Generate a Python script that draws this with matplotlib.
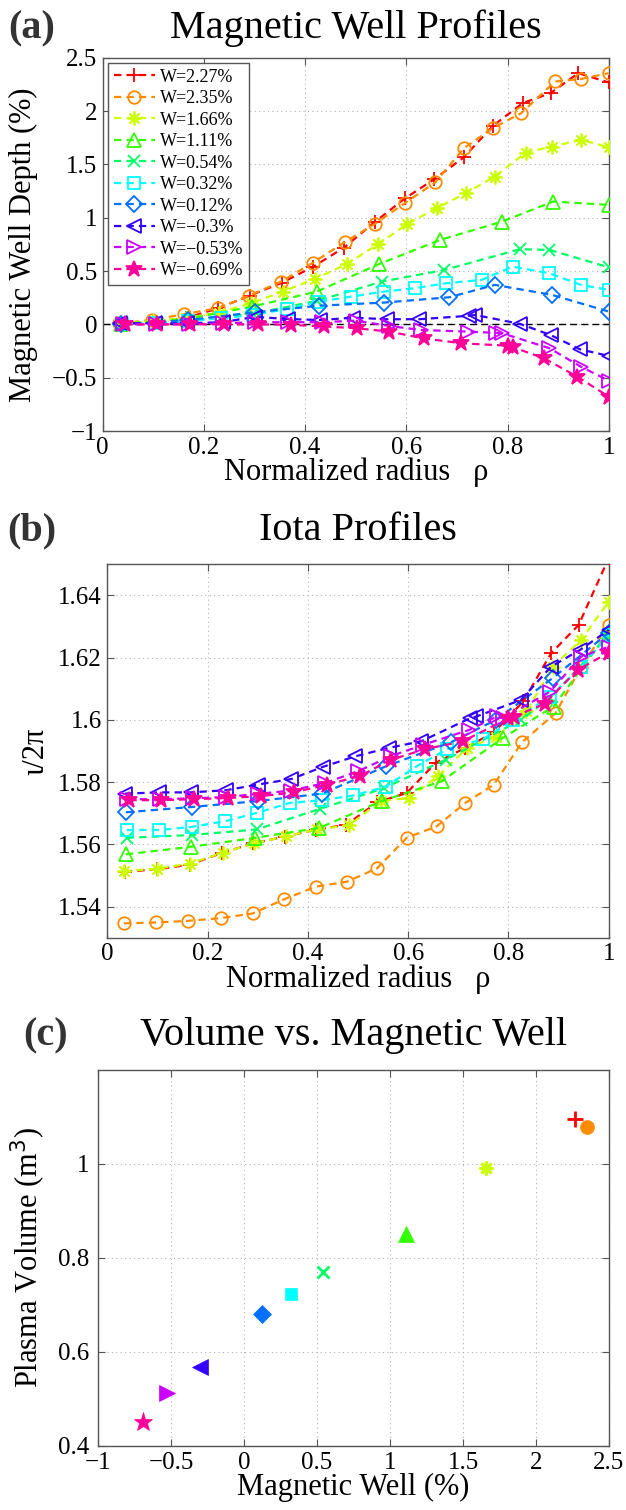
import numpy as np
import matplotlib
matplotlib.use('Agg')
import matplotlib.pyplot as plt
from matplotlib.ticker import FixedLocator

plt.rcParams['font.family'] = ['Liberation Serif', 'DejaVu Serif']
plt.rcParams['axes.unicode_minus'] = True

# ── data ─────────────────────────────────────────────────────────────────────
labels = ['W=2.27%', 'W=2.35%', 'W=1.66%', 'W=1.11%', 'W=0.54%',
          'W=0.32%', 'W=0.12%', 'W=\u22120.3%', 'W=\u22120.53%', 'W=\u22120.69%']
wells = [2.27, 2.35, 1.66, 1.11, 0.54, 0.32, 0.12, -0.3, -0.53, -0.69]
volumes = [1.095, 1.078, 0.991, 0.851, 0.771, 0.724, 0.680, 0.569, 0.512, 0.452]

rho_227 = [0.035, 0.100, 0.165, 0.228, 0.291, 0.354, 0.416, 0.477, 0.538, 0.597, 0.655, 0.714, 0.771, 0.830, 0.885, 0.940, 1.0]
well_227 = [0.005, 0.02, 0.06, 0.15, 0.27, 0.39, 0.54, 0.72, 0.96, 1.18, 1.36, 1.567, 1.86, 2.074, 2.168, 2.355, 2.268]
iota_227 = [1.5512, 1.552, 1.5535, 1.5572, 1.5603, 1.5625, 1.5647, 1.5663, 1.5735, 1.5765, 1.5862, 1.591, 1.596, 1.606, 1.6214, 1.6305, 1.652]

rho_235 = [0.033, 0.097, 0.160, 0.227, 0.290, 0.352, 0.416, 0.478, 0.538, 0.597, 0.657, 0.714, 0.771, 0.827, 0.894, 0.945, 1.0]
well_235 = [0.01, 0.04, 0.095, 0.151, 0.27, 0.40, 0.579, 0.77, 0.942, 1.136, 1.33, 1.652, 1.84, 1.98, 2.277, 2.30, 2.355]
iota_235 = [1.5346, 1.5349, 1.5354, 1.5363, 1.5378, 1.5423, 1.5464, 1.548, 1.5523, 1.5621, 1.5658, 1.5733, 1.5792, 1.5928, 1.6022, 1.617, 1.6305]

rho_166 = [0.033, 0.100, 0.164, 0.230, 0.293, 0.356, 0.419, 0.482, 0.545, 0.602, 0.660, 0.718, 0.775, 0.836, 0.888, 0.945, 1.0]
well_166 = [0.01, 0.03, 0.06, 0.11, 0.198, 0.307, 0.426, 0.564, 0.754, 0.942, 1.089, 1.23, 1.386, 1.611, 1.667, 1.73, 1.661]
iota_166 = [1.5514, 1.5522, 1.5538, 1.5573, 1.5603, 1.5626, 1.5648, 1.5661, 1.5739, 1.5749, 1.582, 1.591, 1.5945, 1.6027, 1.617, 1.6257, 1.638]

rho_111 = [0.037, 0.166, 0.295, 0.423, 0.547, 0.667, 0.789, 0.890, 1.0]
well_111 = [0.005, 0.05, 0.166, 0.307, 0.567, 0.792, 0.963, 1.151, 1.12]
iota_111 = [1.5568, 1.5592, 1.5621, 1.5653, 1.5739, 1.5803, 1.5942, 1.6043, 1.6283]

rho_054 = [0.039, 0.168, 0.298, 0.424, 0.551, 0.675, 0.825, 0.883, 1.0]
well_054 = [0.005, 0.03, 0.10, 0.22, 0.40, 0.51, 0.705, 0.698, 0.535]
iota_054 = [1.5621, 1.563, 1.5648, 1.5714, 1.578, 1.5872, 1.600, 1.607, 1.627]

rho_032 = [0.039, 0.104, 0.168, 0.234, 0.298, 0.364, 0.428, 0.491, 0.555, 0.617, 0.678, 0.749, 0.810, 0.883, 0.945, 1.0]
well_032 = [0.0, 0.01, 0.03, 0.057, 0.088, 0.144, 0.213, 0.26, 0.307, 0.339, 0.385, 0.417, 0.541, 0.479, 0.37, 0.323]
iota_032 = [1.5646, 1.5646, 1.5656, 1.5674, 1.5701, 1.5733, 1.5742, 1.5757, 1.5785, 1.5851, 1.5906, 1.5938, 1.600, 1.6075, 1.617, 1.6273]

rho_012 = [0.037, 0.168, 0.300, 0.428, 0.556, 0.685, 0.775, 0.888, 1.0]
well_012 = [0.0, 0.04, 0.113, 0.175, 0.204, 0.254, 0.37, 0.276, 0.12]
iota_012 = [1.5703, 1.572, 1.5739, 1.5763, 1.5851, 1.5928, 1.600, 1.6134, 1.628]

rho_m030 = [0.035, 0.104, 0.167, 0.237, 0.300, 0.367, 0.430, 0.495, 0.561, 0.626, 0.723, 0.736, 0.825, 0.885, 0.943, 1.0]
well_m030 = [0.01, 0.01, 0.01, 0.02, 0.07, 0.05, 0.04, 0.063, 0.048, 0.048, 0.08, 0.088, 0.004, -0.10, -0.234, -0.296]
iota_m030 = [1.5763, 1.5767, 1.5767, 1.5774, 1.5792, 1.581, 1.5849, 1.5883, 1.591, 1.5931, 1.6005, 1.6011, 1.6064, 1.6171, 1.6225, 1.6289]

rho_m053 = [0.040, 0.105, 0.170, 0.237, 0.300, 0.367, 0.434, 0.500, 0.565, 0.630, 0.722, 0.777, 0.790, 0.883, 0.945, 1.0]
well_m053 = [0.0, 0.0, 0.0, 0.01, 0.02, 0.02, 0.02, 0.035, -0.015, -0.053, -0.068, -0.08, -0.084, -0.224, -0.397, -0.528]
iota_m053 = [1.5745, 1.5745, 1.5748, 1.5752, 1.5762, 1.5773, 1.5797, 1.5835, 1.5883, 1.592, 1.5968, 1.6011, 1.6005, 1.6091, 1.6203, 1.6235]

rho_m069 = [0.044, 0.108, 0.172, 0.240, 0.307, 0.372, 0.438, 0.503, 0.566, 0.634, 0.709, 0.800, 0.811, 0.872, 0.938, 1.0]
well_m069 = [0.0, 0.0, 0.0, 0.0, 0.0, -0.005, -0.02, -0.037, -0.068, -0.131, -0.178, -0.2, -0.215, -0.318, -0.49, -0.678]
iota_m069 = [1.5742, 1.5742, 1.5745, 1.5749, 1.5755, 1.5767, 1.5792, 1.5819, 1.5872, 1.5906, 1.5931, 1.6005, 1.601, 1.6052, 1.6161, 1.6216]

rhos = [rho_227, rho_235, rho_166, rho_111, rho_054, rho_032, rho_012, rho_m030, rho_m053, rho_m069]
well_profiles = [well_227, well_235, well_166, well_111, well_054, well_032, well_012, well_m030, well_m053, well_m069]
iota_profiles = [iota_227, iota_235, iota_166, iota_111, iota_054, iota_032, iota_012, iota_m030, iota_m053, iota_m069]

# ── styles ───────────────────────────────────────────────────────────────────
colors = ['#ff0000', '#ff8c00', '#ccff00', '#33ff00', '#00ff66',
          '#00ffff', '#0070ff', '#3300ff', '#cc00ff', '#ff0099']
asterisk = (8, 2, 0)
markers = ['+', 'o', asterisk, '^', 'x', 's', 'D', '<', '>', '*']
msizes = [10, 9, 10, 10, 8, 8, 8, 10, 10, 12]
# the star marks look solid in the reference, the rest are open
open_face = ['none'] * 9 + ['#ff0099']

W, H = 626, 1510
fig = plt.figure(figsize=(W / 100, H / 100), dpi=100)
fig.patch.set_facecolor('white')


def box(l, t, r, b):
    return [l / W, 1 - b / H, (r - l) / W, (b - t) / H]


def style(ax):
    for s in ax.spines.values():
        s.set_edgecolor('#555555')
        s.set_linewidth(1.0)
    ax.tick_params(direction='in', length=5, width=0.8, color='#555555',
                   top=True, right=True, labelsize=18, pad=4)
    ax.grid(True, linestyle=(0, (1, 3)), color='#b0b0b0', linewidth=0.8)
    ax.set_axisbelow(True)


ax_a = fig.add_axes(box(102.7, 57.7, 608.7, 431))
ax_b = fig.add_axes(box(107.3, 564.3, 608.7, 937.7))
ax_c = fig.add_axes(box(98, 1070, 609, 1446))

# ── (a) magnetic well profiles ──────────────────────────────────────────────
ax_a.axhline(0, color='black', linewidth=1.0, dashes=(5, 3), zorder=1)
for r, w, c, m, ms, fc, lab in zip(rhos, well_profiles, colors, markers, msizes,
                                   open_face, labels):
    ax_a.plot(r, w, color=c, linestyle='--', dashes=(3.3, 2.3), linewidth=1.6,
              marker=m, markersize=ms, markerfacecolor=fc, markeredgecolor=c,
              markeredgewidth=1.3, label=lab, zorder=3)
style(ax_a)
ax_a.set_xlim(0, 1)
ax_a.set_ylim(-1, 2.5)
ax_a.xaxis.set_major_locator(FixedLocator([0, 0.2, 0.4, 0.6, 0.8, 1]))
ax_a.yaxis.set_major_locator(FixedLocator([-1, -0.5, 0, 0.5, 1, 1.5, 2, 2.5]))
ax_a.set_xticklabels(['0', '0.2', '0.4', '0.6', '0.8', '1'])
ax_a.set_yticklabels(['\u22121', '\u22120.5', '0', '0.5', '1', '1.5', '2', '2.5'])
ax_a.set_xlabel('Normalized radius   \u03c1', fontsize=22)
ax_a.set_ylabel('Magnetic Well Depth (%)', fontsize=22)
ax_a.xaxis.set_label_coords(0.5, -0.072)
ax_a.yaxis.set_label_coords(-0.128, 0.5)
leg = ax_a.legend(loc='upper left', fontsize=13, handlelength=2.3,
                  handletextpad=0.3, labelspacing=0.25, borderpad=0.3,
                  borderaxespad=0.3, fancybox=False, framealpha=1)
leg.get_frame().set_edgecolor('#555555')
leg.get_frame().set_linewidth(1.0)

# ── (b) iota profiles ───────────────────────────────────────────────────────
for r, io, c, m, ms, fc in zip(rhos, iota_profiles, colors, markers, msizes, open_face):
    ax_b.plot(r, io, color=c, linestyle='--', dashes=(3.3, 2.3), linewidth=1.6,
              marker=m, markersize=ms, markerfacecolor=fc, markeredgecolor=c,
              markeredgewidth=1.3, zorder=3)
style(ax_b)
ax_b.set_xlim(0, 1)
ax_b.set_ylim(1.53, 1.65)
ax_b.xaxis.set_major_locator(FixedLocator([0, 0.2, 0.4, 0.6, 0.8, 1]))
ax_b.yaxis.set_major_locator(FixedLocator([1.54, 1.56, 1.58, 1.60, 1.62, 1.64]))
ax_b.set_xticklabels(['0', '0.2', '0.4', '0.6', '0.8', '1'])
ax_b.set_yticklabels(['1.54', '1.56', '1.58', '1.6', '1.62', '1.64'])
ax_b.set_xlabel('Normalized radius   \u03c1', fontsize=22)
ax_b.set_ylabel('\u03b9/2\u03c0', fontsize=22)
ax_b.xaxis.set_label_coords(0.5, -0.072)
ax_b.yaxis.set_label_coords(-0.114, 0.5)

# ── (c) volume vs magnetic well ─────────────────────────────────────────────
for w, v, c, m in zip(wells, volumes, colors, markers):
    filled = m not in ('+', 'x', asterisk)
    size = {'+': 11, 'x': 8, asterisk: 10, 'o': 10, '^': 12, 's': 9,
            'D': 9, '<': 12, '>': 12, '*': 14}[m]
    ax_c.plot([w], [v], linestyle='none', marker=m, markersize=size,
              color=c, markerfacecolor=c if filled else 'none',
              markeredgecolor=c, markeredgewidth=2.0 if not filled else 0.5,
              zorder=3)
style(ax_c)
ax_c.set_xlim(-1, 2.5)
ax_c.set_ylim(0.4, 1.2)
ax_c.xaxis.set_major_locator(FixedLocator([-1, -0.5, 0, 0.5, 1, 1.5, 2, 2.5]))
ax_c.yaxis.set_major_locator(FixedLocator([0.4, 0.6, 0.8, 1.0]))
ax_c.set_xticklabels(['\u22121', '\u22120.5', '0', '0.5', '1', '1.5', '2', '2.5'])
ax_c.set_yticklabels(['0.4', '0.6', '0.8', '1'])
ax_c.tick_params(axis='y', pad=6)
ax_c.set_xlabel('Magnetic Well (%)', fontsize=22)
ax_c.set_ylabel('Plasma Volume (m$^3$)', fontsize=22)
ax_c.xaxis.set_label_coords(0.5, -0.072)
ax_c.yaxis.set_label_coords(-0.098, 0.5)

# ── titles and panel letters ────────────────────────────────────────────────
title_kw = dict(fontsize=29, ha='center', va='baseline')
fig.text(355.7 / W, 1 - 38 / H, 'Magnetic Well Profiles', **title_kw)
fig.text(358 / W, 1 - 540 / H, 'Iota Profiles', **title_kw)
fig.text(354 / W, 1 - 1045 / H, 'Volume vs. Magnetic Well', **title_kw)
panel_kw = dict(fontsize=29, ha='center', va='baseline', weight='bold', color='#333333')
fig.text(32 / W, 1 - 38 / H, '(a)', **panel_kw)
fig.text(32 / W, 1 - 540 / H, '(b)', **panel_kw)
fig.text(46 / W, 1 - 1045 / H, '(c)', **panel_kw)

fig.savefig('out.png', dpi=100, facecolor='white')
